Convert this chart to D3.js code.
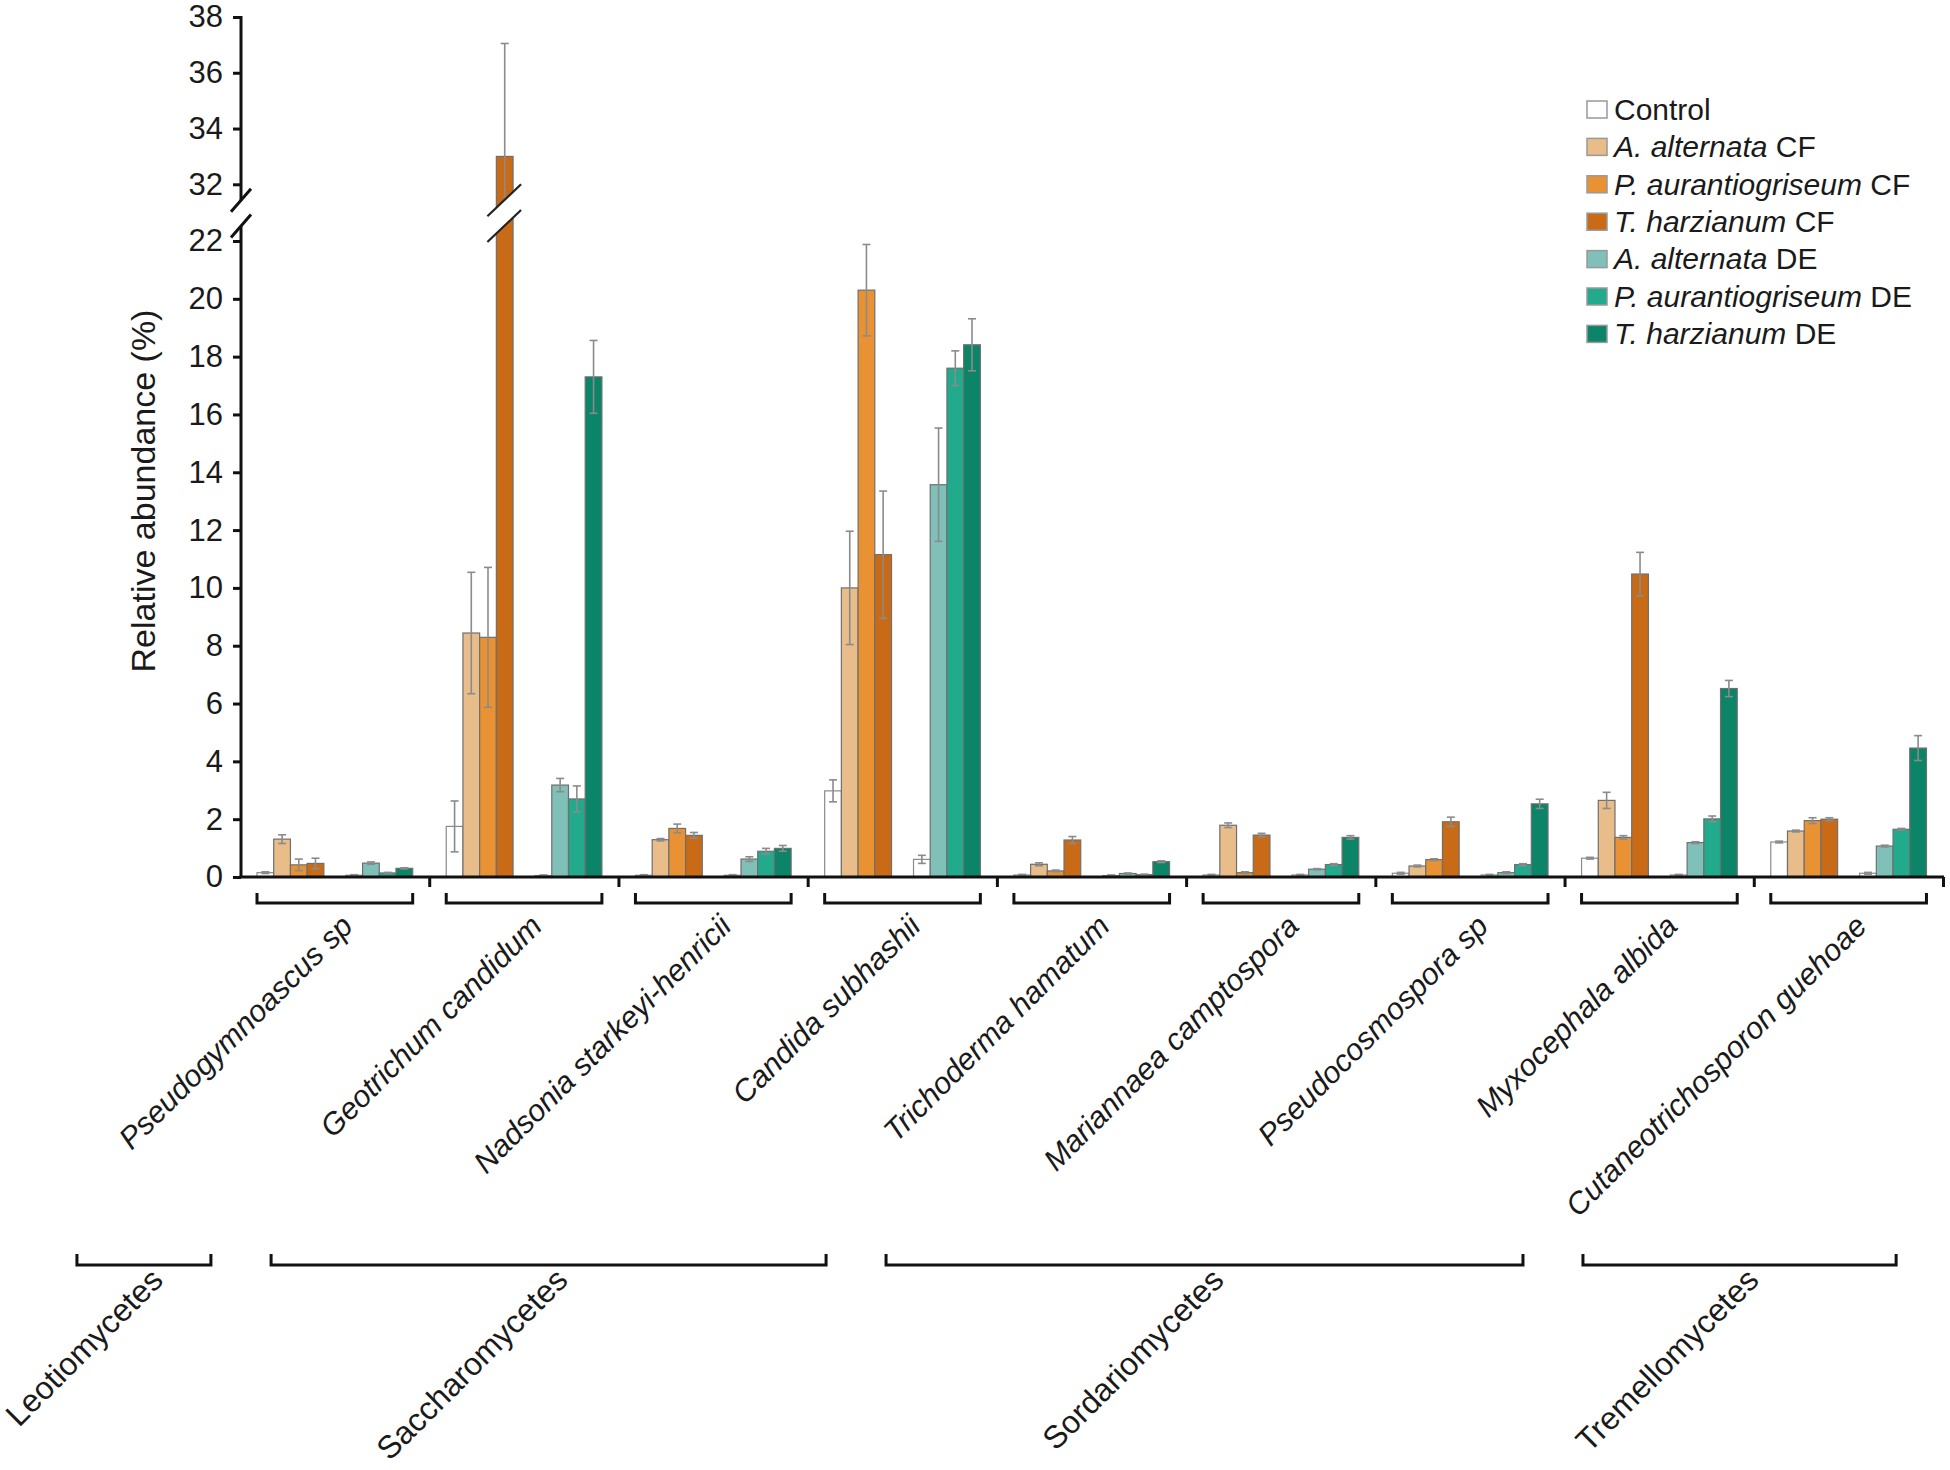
<!DOCTYPE html>
<html>
<head>
<meta charset="utf-8">
<script src="https://cdn.jsdelivr.net/npm/d3@7/dist/d3.min.js"></script>
<style>
  html, body { margin: 0; padding: 0; background: #fff; }
  svg { display: block; font-family: "Liberation Sans", Arial, Helvetica, sans-serif; }
</style>
</head>
<body>
<svg id="chart" width="1950" height="1470"></svg>
<script>
// ---------------- DATA ----------------
const species = [
  "Pseudogymnoascus sp", "Geotrichum candidum", "Nadsonia starkeyi-henricii",
  "Candida subhashii", "Trichoderma hamatum", "Mariannaea camptospora",
  "Pseudocosmospora sp", "Myxocephala albida", "Cutaneotrichosporon guehoae"
];
const classNames = ["Leotiomycetes", "Saccharomycetes", "Sordariomycetes", "Tremellomycetes"];

// bar series, in drawing order within each group
const seriesKeys = ["ControlCF", "AaltCF", "PaurCF", "TharCF", "ControlDE", "AaltDE", "PaurDE", "TharDE"];

const controlCF     = [0.15, 1.75, 0.06, 2.98, 0.07, 0.07, 0.13, 0.65, 1.21];
const controlCFErr  = [0.03, 0.88, 0.02, 0.38, 0.02, 0.02, 0.03, 0.03, 0.03];
const altCF         = [1.31, 8.44, 1.29, 10.0, 0.44, 1.79, 0.38, 2.65, 1.59];
const altCFErr      = [0.15, 2.10, 0.04, 1.96, 0.05, 0.08, 0.03, 0.28, 0.03];
const aurCF         = [0.42, 8.29, 1.68, 20.3, 0.21, 0.15, 0.60, 1.37, 1.95];
const aurCFErr      = [0.20, 2.42, 0.15, 1.58, 0.03, 0.03, 0.03, 0.06, 0.10];
const harCF         = [0.47, 33.0, 1.44, 11.15, 1.28, 1.45, 1.91, 10.48, 2.00];
const harCFErr      = [0.18, 4.05, 0.10, 2.20, 0.12, 0.06, 0.16, 0.75, 0.05];
const controlDE     = [0.06, 0.05, 0.06, 0.61, 0.05, 0.07, 0.07, 0.07, 0.13];
const controlDEErr  = [0.02, 0.02, 0.02, 0.14, 0.02, 0.02, 0.02, 0.02, 0.03];
const altDE         = [0.48, 3.18, 0.62, 13.57, 0.12, 0.27, 0.15, 1.19, 1.07];
const altDEErr      = [0.04, 0.23, 0.08, 1.96, 0.02, 0.02, 0.03, 0.03, 0.03];
const aurDE         = [0.14, 2.70, 0.89, 17.6, 0.08, 0.43, 0.43, 2.01, 1.65];
const aurDEErr      = [0.02, 0.45, 0.10, 0.60, 0.02, 0.03, 0.03, 0.10, 0.03];
const harDE         = [0.30, 17.3, 0.99, 18.41, 0.53, 1.37, 2.53, 6.52, 4.46];
const harDEErr      = [0.02, 1.26, 0.10, 0.90, 0.03, 0.06, 0.16, 0.28, 0.43];

const seriesValues = [controlCF, altCF, aurCF, harCF, controlDE, altDE, aurDE, harDE];
const seriesErrors = [controlCFErr, altCFErr, aurCFErr, harCFErr, controlDEErr, altDEErr, aurDEErr, harDEErr];

const legendItalic = ["", "A. alternata", "P. aurantiogriseum", "T. harzianum", "A. alternata", "P. aurantiogriseum", "T. harzianum"];
const legendSuffix = ["Control", "CF", "CF", "CF", "DE", "DE", "DE"];

const lowerTicks = [0, 2, 4, 6, 8, 10, 12, 14, 16, 18, 20, 22];
const upperTicks = [32, 34, 36, 38];

// ---------------- STYLE / LAYOUT ----------------
const colors = ["#ffffff", "#e9bd89", "#e99233", "#c96b16", "#ffffff", "#7fc1b8", "#22aa8c", "#0b8467"];
const legendColors = ["#ffffff", "#e9bd89", "#e99233", "#c96b16", "#7fc1b8", "#22aa8c", "#0b8467"];
// class bracket spans in group-index units (layout)
const classSpans = [[-0.867, -0.159], [0.159, 3.092], [3.409, 6.775], [7.092, 8.747]];

const svg = d3.select("#chart");
const X0 = 241, X1 = 1944, Y0 = 877;

const x = d3.scaleBand().domain(species).range([X0, X1]).paddingInner(0).paddingOuter(0);
const xIdx = d3.scaleLinear().domain([0, species.length]).range([X0, X1]);
const bw = x.bandwidth();
const barW = bw * 0.0883;
const padL = bw * 0.0846;
const subGap = bw * 0.1163;
const slotX = i => padL + i * barW + (i >= 4 ? subGap : 0);

// broken y axis: 22..32 compressed
const y = d3.scaleLinear().domain([0, 22, 32, 38]).range([Y0, 241, 184.3, 17]);
const breakTop = y(32) + 16;   // centre of upper break mark
const breakBot = y(22) - 15;   // centre of lower break mark

// ---------------- BARS ----------------
const gBars = svg.append("g");
seriesValues.forEach((vals, s) => {
  gBars.selectAll(null).data(vals).enter().append("rect")
    .attr("x", (d, i) => x(species[i]) + slotX(s))
    .attr("y", d => y(d))
    .attr("width", barW)
    .attr("height", d => Y0 - y(d))
    .attr("fill", colors[s])
    .attr("stroke", s === 0 || s === 4 ? "#8a8a8a" : "#6f6f6f")
    .attr("stroke-width", 1.2);
});

// error bars
seriesValues.forEach((vals, s) => {
  const errs = seriesErrors[s];
  vals.forEach((v, i) => {
    const cx = x(species[i]) + slotX(s) + barW / 2;
    const yt = y(v + errs[i]), yb = y(Math.max(0, v - errs[i]));
    const g = gBars.append("g").attr("stroke", "#8b8b8b").attr("stroke-width", 1.6);
    g.append("line").attr("x1", cx).attr("x2", cx).attr("y1", yt).attr("y2", yb);
    g.append("line").attr("x1", cx - 4).attr("x2", cx + 4).attr("y1", yt).attr("y2", yt);
    g.append("line").attr("x1", cx - 4).attr("x2", cx + 4).attr("y1", yb).attr("y2", yb);
  });
});

// break marks on bars that cross the break
seriesValues.forEach((vals, s) => {
  vals.forEach((v, i) => {
    if (v <= 22) return;
    const bx = x(species[i]) + slotX(s);
    const xl = bx - 9, xr = bx + barW + 8, h = 16;
    const tc = breakTop, bc = breakBot;
    svg.append("path")
      .attr("d", `M${xl},${tc + h} L${xr},${tc - h} L${xr},${bc - h} L${xl},${bc + h} Z`)
      .attr("fill", "#fff").attr("stroke", "none");
    [tc, bc].forEach(c => {
      svg.append("line").attr("x1", xl).attr("y1", c + h).attr("x2", xr).attr("y2", c - h)
        .attr("stroke", "#222").attr("stroke-width", 2.2);
    });
  });
});

// ---------------- AXES ----------------
const axisCol = "#111";
// y axis segments
svg.append("line").attr("x1", X0).attr("x2", X0).attr("y1", y(38) - 1).attr("y2", breakTop)
  .attr("stroke", axisCol).attr("stroke-width", 3);
svg.append("line").attr("x1", X0).attr("x2", X0).attr("y1", breakBot).attr("y2", Y0 + 1)
  .attr("stroke", axisCol).attr("stroke-width", 3);
[breakTop, breakBot].forEach(c => {
  svg.append("line").attr("x1", X0 - 10).attr("y1", c + 11.5).attr("x2", X0 + 10).attr("y2", c - 11.5)
    .attr("stroke", axisCol).attr("stroke-width", 3);
});

const yAxisLower = d3.axisLeft(y).tickValues(lowerTicks).tickSize(8).tickPadding(10).tickFormat(d3.format("d"));
const yAxisUpper = d3.axisLeft(y).tickValues(upperTicks).tickSize(8).tickPadding(10).tickFormat(d3.format("d"));
[yAxisLower, yAxisUpper].forEach(ax => {
  const g = svg.append("g").attr("transform", `translate(${X0},0)`).call(ax);
  g.select(".domain").remove();
  g.selectAll(".tick line").attr("stroke", axisCol).attr("stroke-width", 3);
  g.selectAll(".tick text").attr("font-size", 31).attr("fill", "#1a1a1a")
    .attr("font-family", "'Liberation Sans', Arial, sans-serif");
});

// y title
svg.append("text")
  .attr("transform", `translate(155,${(y(0) + y(38)) / 2 + 44}) rotate(-90)`)
  .attr("text-anchor", "middle")
  .attr("font-size", 34).attr("fill", "#1a1a1a")
  .text("Relative abundance (%)");

// x axis line
svg.append("line").attr("x1", X0 - 1.5).attr("x2", X1).attr("y1", Y0).attr("y2", Y0)
  .attr("stroke", axisCol).attr("stroke-width", 3);
// boundary ticks
d3.range(1, species.length + 1).forEach(k => {
  svg.append("line").attr("x1", xIdx(k) - 0.5).attr("x2", xIdx(k) - 0.5).attr("y1", Y0).attr("y2", Y0 + 10)
    .attr("stroke", axisCol).attr("stroke-width", 3);
});

// group brackets
species.forEach(sp => {
  const a = x(sp) + slotX(0), b = x(sp) + slotX(7) + barW;
  svg.append("path")
    .attr("d", `M${a},893 L${a},903 L${b},903 L${b},893`)
    .attr("fill", "none").attr("stroke", axisCol).attr("stroke-width", 3);
});

// species labels
species.forEach(sp => {
  const cx = x(sp) + bw / 2;
  svg.append("text")
    .attr("transform", `translate(${cx + 19},928) rotate(-45)`)
    .attr("text-anchor", "end")
    .attr("font-size", 30.5).attr("font-style", "italic").attr("fill", "#1a1a1a")
    .text(sp);
});

// class brackets and labels
classNames.forEach((c, k) => {
  const a = xIdx(classSpans[k][0]), b = xIdx(classSpans[k][1]);
  svg.append("path")
    .attr("d", `M${a},1254 L${a},1265 L${b},1265 L${b},1254`)
    .attr("fill", "none").attr("stroke", axisCol).attr("stroke-width", 3);
  svg.append("text")
    .attr("transform", `translate(${(a + b) / 2 + 21},1282) rotate(-45)`)
    .attr("text-anchor", "end")
    .attr("font-size", 32).attr("fill", "#1a1a1a")
    .text(c);
});

// ---------------- LEGEND ----------------
const lg = svg.append("g").attr("transform", "translate(1587,109)");
legendSuffix.forEach((suf, i) => {
  const row = lg.append("g").attr("transform", `translate(0,${i * 37.4})`);
  row.append("rect").attr("x", 0).attr("y", -8).attr("width", 20).attr("height", 17)
    .attr("fill", legendColors[i]).attr("stroke", "#999").attr("stroke-width", 1.5);
  const t = row.append("text").attr("x", 27).attr("y", 0).attr("dy", "0.36em")
    .attr("font-size", 30).attr("fill", "#1a1a1a");
  if (legendItalic[i]) {
    t.append("tspan").attr("font-style", "italic").text(legendItalic[i] + " ");
  }
  t.append("tspan").text(suf);
});
</script>
</body>
</html>
